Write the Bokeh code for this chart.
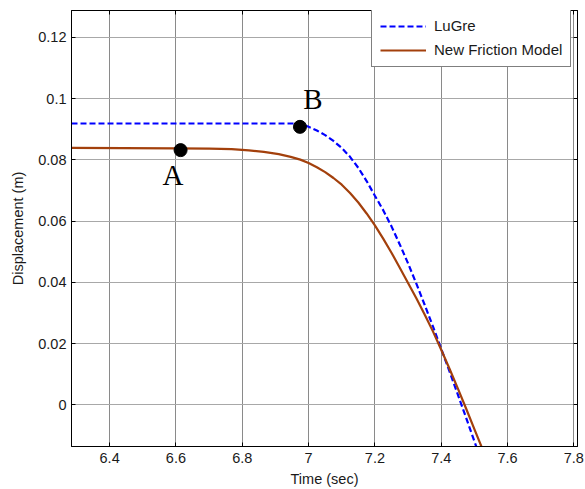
from bokeh.plotting import figure
from bokeh.models import FixedTicker, LinearAxis, Range1d, Label, Legend, LegendItem
from bokeh.embed import file_html
from bokeh.resources import INLINE

# ---- data ----
lugre_t = [6.285, 6.5, 6.7, 6.9, 6.97, 6.985, 7.0, 7.025, 7.05, 7.075, 7.1, 7.125, 7.15,
           7.175, 7.2, 7.225, 7.25, 7.275, 7.3, 7.325, 7.35, 7.375, 7.4, 7.425, 7.45,
           7.475, 7.5, 7.506]
lugre_x = [0.0919, 0.0919, 0.0919, 0.0919, 0.0919, 0.0915, 0.0908, 0.0896, 0.0881, 0.0862,
           0.0839, 0.0810, 0.0774, 0.0731, 0.0683, 0.0636, 0.0583, 0.0524, 0.0462, 0.0396,
           0.0327, 0.0256, 0.0183, 0.0109, 0.0034, -0.0042, -0.0119, -0.0137]

new_t = [6.285, 6.6, 6.7, 6.768, 6.82, 6.865, 6.91, 6.946, 6.975, 7.0, 7.025, 7.05, 7.075,
         7.1, 7.125, 7.15, 7.175, 7.2, 7.225, 7.25, 7.275, 7.3, 7.325, 7.35, 7.375, 7.4,
         7.425, 7.45, 7.475, 7.5, 7.525]
new_x = [0.0839, 0.0838, 0.0837, 0.0835, 0.0831, 0.0826, 0.0819, 0.0810, 0.0801, 0.0790,
         0.0776, 0.0760, 0.0741, 0.0719, 0.0692, 0.0661, 0.0625, 0.0586, 0.0543, 0.0497,
         0.0448, 0.0398, 0.0348, 0.0295, 0.0240, 0.0180, 0.0118, 0.0054, -0.0012, -0.0079,
         -0.0146]

point_names = ["A", "B"]
point_t = [6.614, 6.974]
point_x = [0.0832, 0.0908]

x_ticks = [6.4, 6.6, 6.8, 7.0, 7.2, 7.4, 7.6, 7.8]
x_tick_labels = ["6.4", "6.6", "6.8", "7", "7.2", "7.4", "7.6", "7.8"]
y_ticks = [0.0, 0.02, 0.04, 0.06, 0.08, 0.1, 0.12]
y_tick_labels = ["0", "0.02", "0.04", "0.06", "0.08", "0.1", "0.12"]

FONT = "Liberation Sans"
FS = "14.5px"

p = figure(width=585, height=489, output_backend="svg", toolbar_location=None,
           x_range=Range1d(6.285, 7.811), y_range=Range1d(-0.0136, 0.1288),
           min_border_left=71, min_border_right=8, min_border_top=10, min_border_bottom=42,
           x_axis_label="Time (sec)", y_axis_label="Displacement (m)")
p.background_fill_color = "white"
p.border_fill_color = "white"
p.outline_line_color = "black"
p.outline_line_width = 1

def style_axis(ax, ticks, labels, show_labels=True):
    ax.ticker = FixedTicker(ticks=ticks)
    ax.major_label_overrides = {t: l for t, l in zip(ticks, labels)}
    ax.major_tick_in = 4
    ax.major_tick_out = 0
    ax.minor_tick_in = 0
    ax.minor_tick_out = 0
    ax.axis_line_color = "black"
    ax.axis_line_width = 1
    ax.major_tick_line_color = "black"
    ax.major_label_text_font = FONT
    ax.major_label_text_font_size = FS
    ax.major_label_text_color = "#1a1a1a"
    ax.axis_label_text_font = FONT
    ax.axis_label_text_font_size = FS
    ax.axis_label_text_font_style = "normal"
    ax.axis_label_text_color = "#1a1a1a"
    if not show_labels:
        ax.major_label_text_font_size = "0px"
        ax.major_label_text_alpha = 0

style_axis(p.xaxis[0], x_ticks, x_tick_labels)
style_axis(p.yaxis[0], y_ticks, y_tick_labels)
p.xaxis[0].major_label_standoff = 6
p.xaxis[0].axis_label_standoff = 5
p.yaxis[0].major_label_standoff = 5
p.yaxis[0].axis_label_standoff = 9

top = LinearAxis()
style_axis(top, x_ticks, x_tick_labels, show_labels=False)
p.add_layout(top, "above")
right = LinearAxis()
style_axis(right, y_ticks, y_tick_labels, show_labels=False)
p.add_layout(right, "right")

p.xgrid.ticker = FixedTicker(ticks=x_ticks)
p.ygrid.ticker = FixedTicker(ticks=y_ticks)
p.xgrid.grid_line_color = "#8a8a8a"
p.ygrid.grid_line_color = "#a8a8a8"
p.xgrid.grid_line_width = 1
p.ygrid.grid_line_width = 1

r1 = p.line(lugre_t, lugre_x, line_color="#0000FF", line_width=2.2, line_dash="6 3")
r2 = p.line(new_t, new_x, line_color="#A3400C", line_width=2.2)

p.scatter(point_t, point_x, size=13, color="black", marker="circle")

p.add_layout(Label(x=point_t[0] - 0.023, y=point_x[0] - 0.0080, text=point_names[0],
                   text_font="Liberation Serif", text_font_size="29px", text_color="black",
                   text_align="center", text_baseline="alphabetic"))
p.add_layout(Label(x=point_t[1] + 0.039, y=point_x[1] + 0.0090, text=point_names[1],
                   text_font="Liberation Serif", text_font_size="29px", text_color="black",
                   text_align="center", text_baseline="alphabetic"))

legend = Legend(items=[LegendItem(label="LuGre", renderers=[r1]),
                       LegendItem(label="New Friction Model", renderers=[r2])],
                location=(300, 379))
legend.border_line_color = "black"
legend.border_line_width = 1.5
legend.background_fill_color = "white"
legend.background_fill_alpha = 1
legend.label_text_font = FONT
legend.label_text_font_size = "15px"
legend.label_text_color = "#1a1a1a"
legend.glyph_width = 46
legend.glyph_height = 14
legend.label_height = 14
legend.label_standoff = 8
legend.spacing = 7
legend.padding = 8
legend.margin = 0
p.add_layout(legend)

open("out.html", "w").write(file_html(p, INLINE))
